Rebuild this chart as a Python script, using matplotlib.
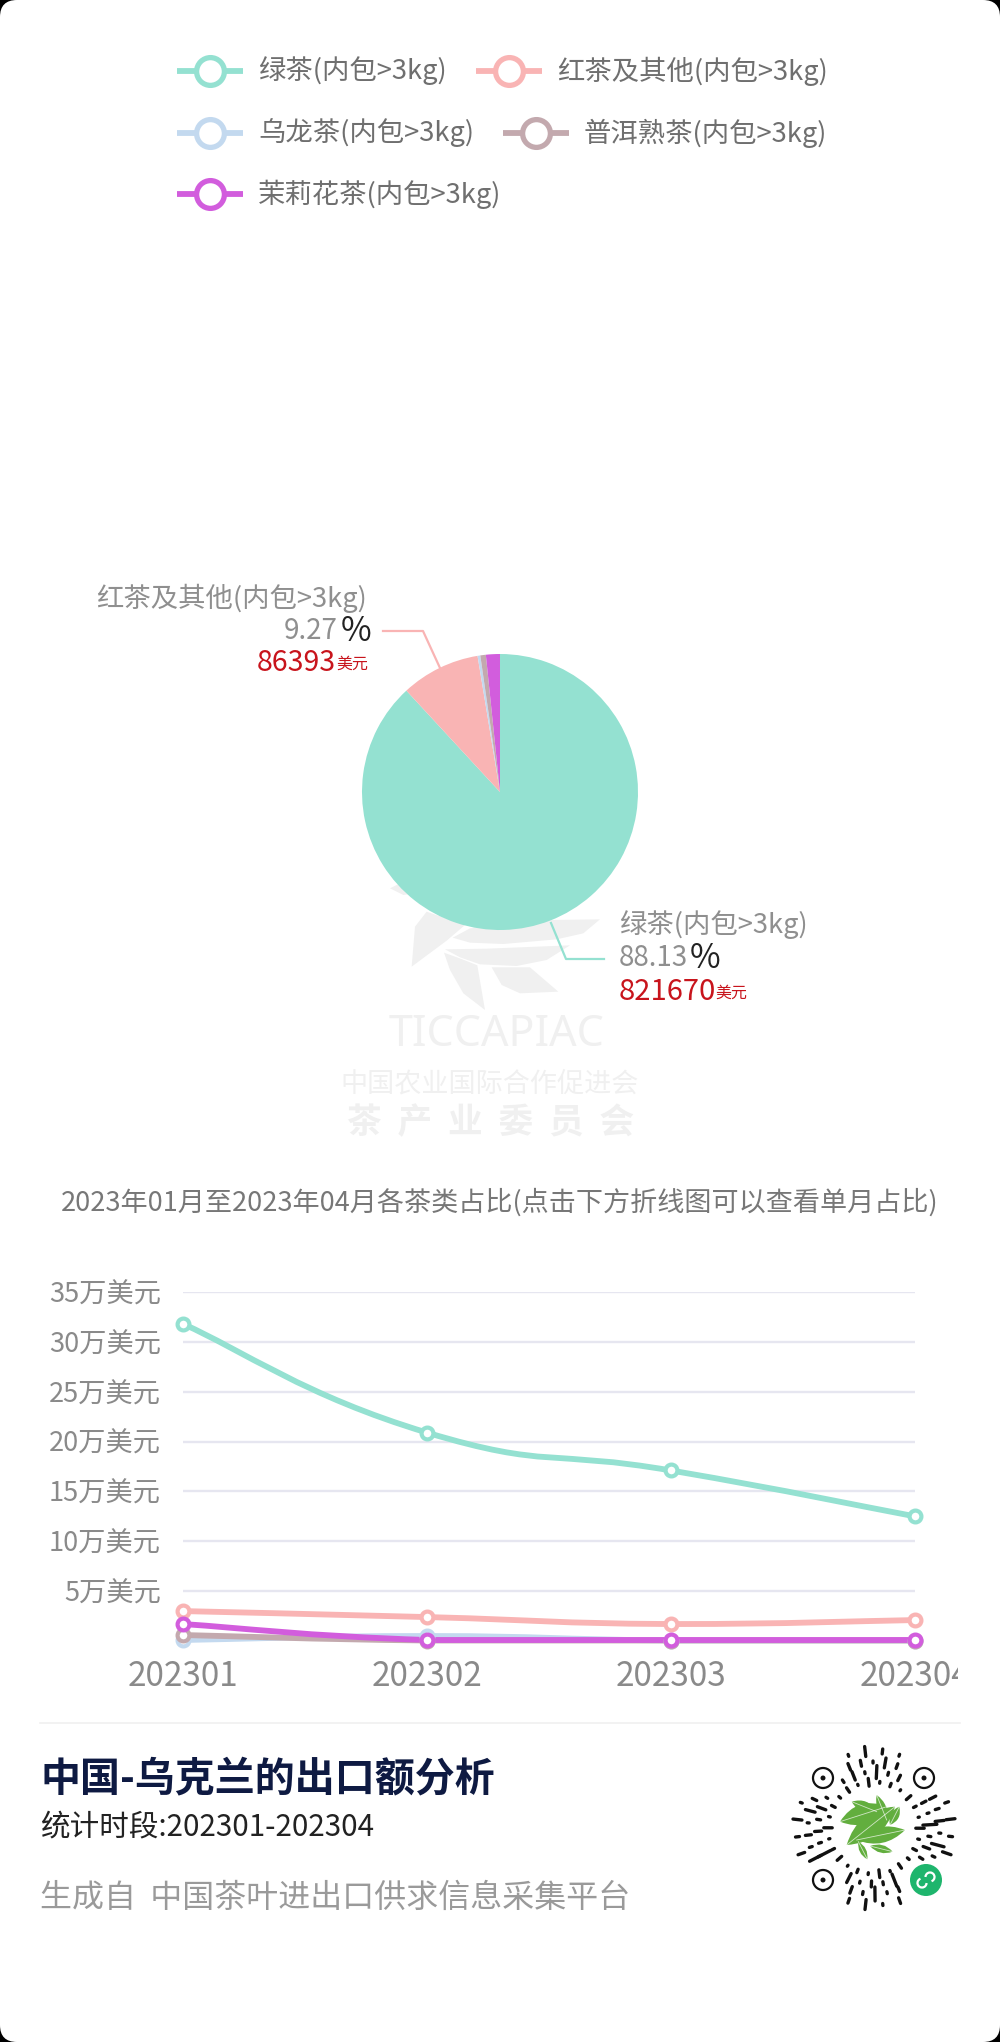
#!/usr/bin/env python3
"""China-Ukraine tea export share: legend, pie, monthly lines and footer card."""

import numpy as np
import matplotlib
matplotlib.use('Agg')
import matplotlib.pyplot as plt
from matplotlib.patches import FancyBboxPatch, PathPatch, Polygon, Circle, Arc
from matplotlib.path import Path
from matplotlib.transforms import Bbox

plt.rcParams['font.family'] = ['Noto Sans CJK SC', 'DejaVu Sans']

W, H = 1000, 2042

# Data
series_names = ['绿茶(内包>3kg)', '红茶及其他(内包>3kg)', '乌龙茶(内包>3kg)',
                '普洱熟茶(内包>3kg)', '茉莉花茶(内包>3kg)']
series_colors = ['#94e1d1', '#f9b4b4', '#c3d9ef', '#c3a9ae', '#d25ddd']

pie_values = [821670, 86393, 3000, 6000, 15276]

months = ['202301', '202302', '202303', '202304']
green_tea = [31.8, 20.9, 17.1, 12.5]
black_tea = [3.0, 2.4, 1.7, 2.1]
oolong_tea = [0.1, 0.5, 0.05, 0.05]
puer_tea = [0.6, 0.05, 0.05, 0.05]
jasmine_tea = [1.7, 0.1, 0.1, 0.1]
line_series = [green_tea, black_tea, oolong_tea, puer_tea, jasmine_tea]

y_ticks = [5, 10, 15, 20, 25, 30, 35]

caption = '2023年01月至2023年04月各茶类占比(点击下方折线图可以查看单月占比)'
title = '中国-乌克兰的出口额分析'
subtitle = '统计时段:202301-202304'
footer = '生成自  中国茶叶进出口供求信息采集平台'


def px_axes(fig, left, top, right, bottom, **kw):
    """Axes placed by pixel edges, y measured from the top."""
    return fig.add_axes([left / W, 1 - bottom / H, (right - left) / W, (bottom - top) / H], **kw)


def smooth_path(xs, ys, s=0.25):
    """Bezier path through the data points, clamped so it does not overshoot."""
    verts = [(xs[0], ys[0])]
    codes = [Path.MOVETO]
    n = len(xs)
    for i in range(n - 1):
        prev_i = max(i - 1, 0)
        next_i = min(i + 2, n - 1)
        lo, hi = min(ys[i], ys[i + 1]), max(ys[i], ys[i + 1])
        c1y = np.clip(ys[i] + (ys[i + 1] - ys[prev_i]) * s, lo, hi)
        c2y = np.clip(ys[i + 1] - (ys[next_i] - ys[i]) * s, lo, hi)
        c1x = xs[i] + (xs[i + 1] - xs[prev_i]) * s
        c2x = xs[i + 1] - (xs[next_i] - xs[i]) * s
        verts += [(c1x, c1y), (c2x, c2y), (xs[i + 1], ys[i + 1])]
        codes += [Path.CURVE4, Path.CURVE4, Path.CURVE4]
    return Path(verts, codes)


def leaf(ax, start, end, width, color, zorder=2):
    """Pointed leaf between two pixel positions."""
    a, b = np.array(start, float), np.array(end, float)
    mid = (a + b) / 2
    d = b - a
    normal = np.array([-d[1], d[0]]) / np.hypot(*d)
    path = Path([a, mid + normal * width, b, mid - normal * width, a],
                [Path.MOVETO, Path.CURVE3, Path.CURVE3, Path.CURVE3, Path.CURVE3])
    ax.add_patch(PathPatch(path, facecolor=color, edgecolor='none', zorder=zorder))
    ax.plot([a[0], b[0]], [a[1], b[1]], color='white', lw=0.6, alpha=0.7, zorder=zorder + 0.1)


def draw_legend(ov):
    rows = [(177, 71, 0), (476, 71, 1), (177, 133, 2), (503, 133, 3), (177, 194, 4)]
    for x0, y, i in rows:
        ov.plot([x0, x0 + 66], [y, y], color=series_colors[i], lw=4.2, solid_capstyle='butt', zorder=3)
        ov.plot([x0 + 33], [y], marker='o', ms=20, mfc='white', mec=series_colors[i], mew=3.8, zorder=4)
        ov.text(x0 + 81, y, series_names[i], fontsize=19.7, color='#6f6f6f', ha='left', va='center')


def draw_watermark(ov):
    c = '#f0f0f0'
    zoom_polys = [
        [(60, 55), (100, 75), (135, 70), (110, 30)],
        [(125, 290), (135, 170), (170, 125), (285, 165), (230, 212)],
        [(248, 203), (300, 175), (540, 150), (690, 148), (640, 190), (560, 208), (400, 222), (300, 218)],
        [(225, 238), (350, 236), (600, 226), (530, 270), (440, 288), (330, 283), (270, 262)],
        [(222, 248), (272, 266), (322, 286), (345, 420), (280, 370), (240, 300)],
        [(365, 292), (480, 292), (565, 365), (450, 370), (395, 345)],
    ]
    for poly in zoom_polys:
        pts = [(370 + x / 3, 870 + y / 3) for x, y in poly]
        ov.add_patch(Polygon(pts, closed=True, facecolor=c, edgecolor='none', joinstyle='round', zorder=1))
    ov.text(497, 1035, 'TICCAPIAC', fontsize=31, color=c, ha='center', va='center',
            family=['Noto Sans', 'DejaVu Sans'], zorder=1)
    ov.text(490, 1084, '中国农业国际合作促进会', fontsize=19.5, color=c, ha='center', va='center', zorder=1)
    ov.text(491, 1123, '茶  产  业  委  员  会', fontsize=25, color=c, fontweight='bold',
            ha='center', va='center', zorder=1)


def draw_pie_labels(ov):
    gray, dark, red = '#8f8f8f', '#222222', '#c8141c'
    # leader lines
    ov.plot([440, 423, 383], [668, 631, 631], color=series_colors[1], lw=1.6, zorder=2)
    ov.plot([551, 566, 604], [923, 959, 959], color=series_colors[0], lw=1.6, zorder=2)

    ov.text(367, 598, series_names[1], fontsize=19.7, color=gray, ha='right', va='center')
    ov.text(338, 631, '9.27', fontsize=20, color=gray, ha='right', va='center')
    ov.text(341, 631, '%', fontsize=24, color=dark, ha='left', va='center')
    ov.text(336, 663, '86393', fontsize=20.5, color=red, ha='right', va='center')
    ov.text(336, 664, '美元', fontsize=11.5, color=red, ha='left', va='center')

    ov.text(619, 925, series_names[0], fontsize=19.7, color=gray, ha='left', va='center')
    ov.text(619, 958, '88.13', fontsize=20, color=gray, ha='left', va='center')
    ov.text(690, 958, '%', fontsize=24, color=dark, ha='left', va='center')
    ov.text(619, 992, '821670', fontsize=21, color=red, ha='left', va='center')
    ov.text(715, 993, '美元', fontsize=11.5, color=red, ha='left', va='center')


def draw_lines(ax):
    x = np.arange(len(months))
    for values, color in zip(line_series, series_colors):
        ax.add_patch(PathPatch(smooth_path(x, values), facecolor='none', edgecolor=color,
                               lw=4.2, capstyle='round', clip_on=False, zorder=3))
        ax.plot(x, values, linestyle='none', marker='o', ms=8.5, mfc='white', mec=color,
                mew=3.0, clip_on=False, zorder=4)
    ax.set_xlim(0, 3)
    ax.set_ylim(0, 35)
    ax.set_xticks(x)
    ax.set_xticklabels(months, fontsize=24, color='#8a8a8a')
    ax.set_yticks(y_ticks)
    ax.set_yticklabels([f'{v}万美元' for v in y_ticks], fontsize=19.6, color='#8a8a8a')
    ax.tick_params(axis='x', length=0, pad=13)
    ax.tick_params(axis='y', length=0, pad=16)
    ax.grid(axis='y', color='#e6e6f0', lw=1.7)
    ax.set_axisbelow(True)
    for spine in ax.spines.values():
        spine.set_visible(False)
    ax.patch.set_alpha(0)
    # last month runs off the card
    last = ax.get_xticklabels()[-1]
    last.set_clip_box(Bbox([[0, 0], [958, H]]))
    last.set_clip_on(True)


def draw_qr(ov):
    cx, cy = 874, 1828
    finders = [(823, 1778), (924, 1778), (823, 1880)]
    badge = (926, 1880)
    radii = [46, 56, 66, 77]
    counts = [26, 30, 34, 28]
    lengths = [4, 9, 2, 13, 3, 6, 2, 10, 5, 2, 14, 3, 7]
    k = 0
    for r, n in zip(radii, counts):
        for j in range(n):
            ang = 2 * np.pi * (j + 0.37 * r) / n
            k += 1
            length = lengths[k % len(lengths)] * (1.0 if r > 50 else 0.6)
            px, py = cx + r * np.cos(ang), cy + r * np.sin(ang)
            if any(np.hypot(px - fx, py - fy) < 20 for fx, fy in finders):
                continue
            if np.hypot(px - badge[0], py - badge[1]) < 22:
                continue
            ux, uy = np.cos(ang), np.sin(ang)
            ov.plot([px - ux * length / 2, px + ux * length / 2], [py - uy * length / 2, py + uy * length / 2],
                    color='#111111', lw=2.4, solid_capstyle='round', zorder=3)
    for fx, fy in finders:
        ov.add_patch(Circle((fx, fy), 10, facecolor='none', edgecolor='#111111', lw=1.6, zorder=3))
        ov.add_patch(Circle((fx, fy), 2.5, facecolor='#111111', edgecolor='none', zorder=3))

    green = '#62ae3e'
    leaf_zoom = [((180, 245), (320, 200), 60), ((200, 315), (345, 200), 64), ((215, 185), (290, 215), 32),
                 ((290, 165), (320, 240), 26), ((330, 255), (358, 200), 26), ((230, 300), (375, 270), 48),
                 ((235, 305), (262, 358), 20), ((270, 318), (338, 335), 24)]
    for a, b, wid in leaf_zoom:
        leaf(ov, (780 + a[0] / 3, 1740 + a[1] / 3), (780 + b[0] / 3, 1740 + b[1] / 3), wid / 3, green, zorder=3)

    ov.add_patch(Circle(badge, 16, facecolor='#1eb56d', edgecolor='none', zorder=4))
    ov.add_patch(Arc((badge[0] - 4, badge[1] + 3), 9, 9, theta1=0, theta2=250, edgecolor='white', lw=1.6, zorder=5))
    ov.add_patch(Arc((badge[0] + 4, badge[1] - 3), 9, 9, theta1=180, theta2=430, edgecolor='white', lw=1.6, zorder=5))


def main():
    fig = plt.figure(figsize=(W / 100, H / 100), dpi=100, facecolor='black')

    # Pixel overlay for the card, legend and all loose text
    ov = fig.add_axes([0, 0, 1, 1], zorder=0)
    ov.set_xlim(0, W)
    ov.set_ylim(H, 0)
    ov.axis('off')
    ov.add_patch(FancyBboxPatch((0, 0), W, H, boxstyle='round,pad=0,rounding_size=17',
                                facecolor='white', edgecolor='none', zorder=0))

    draw_legend(ov)
    draw_watermark(ov)
    draw_pie_labels(ov)

    # Pie
    ax_pie = px_axes(fig, 362, 654, 638, 930, zorder=1)
    ax_pie.pie(pie_values, colors=series_colors, startangle=90, counterclock=False, radius=1)
    ax_pie.set_xlim(-1, 1)
    ax_pie.set_ylim(-1, 1)

    ov.text(500, 1202, caption, fontsize=19.5, color='#777777', ha='center', va='center')

    # Monthly lines
    ax_line = px_axes(fig, 183, 1292, 915, 1641, zorder=1)
    draw_lines(ax_line)

    # Footer
    ov.plot([40, 960], [1723, 1723], color='#f0f0f0', lw=1.2, zorder=1)
    ov.text(40, 1779, title, fontsize=28.8, color='#0e1a42', fontweight='bold', ha='left', va='center')
    ov.text(40, 1827, subtitle, fontsize=21.3, color='#222222', ha='left', va='center')
    ov.text(40, 1898, footer, fontsize=23, color='#9a9a9a', ha='left', va='center')
    draw_qr(ov)

    fig.savefig('out.png', dpi=100, facecolor=fig.get_facecolor())
    plt.close(fig)


if __name__ == "__main__":
    main()
